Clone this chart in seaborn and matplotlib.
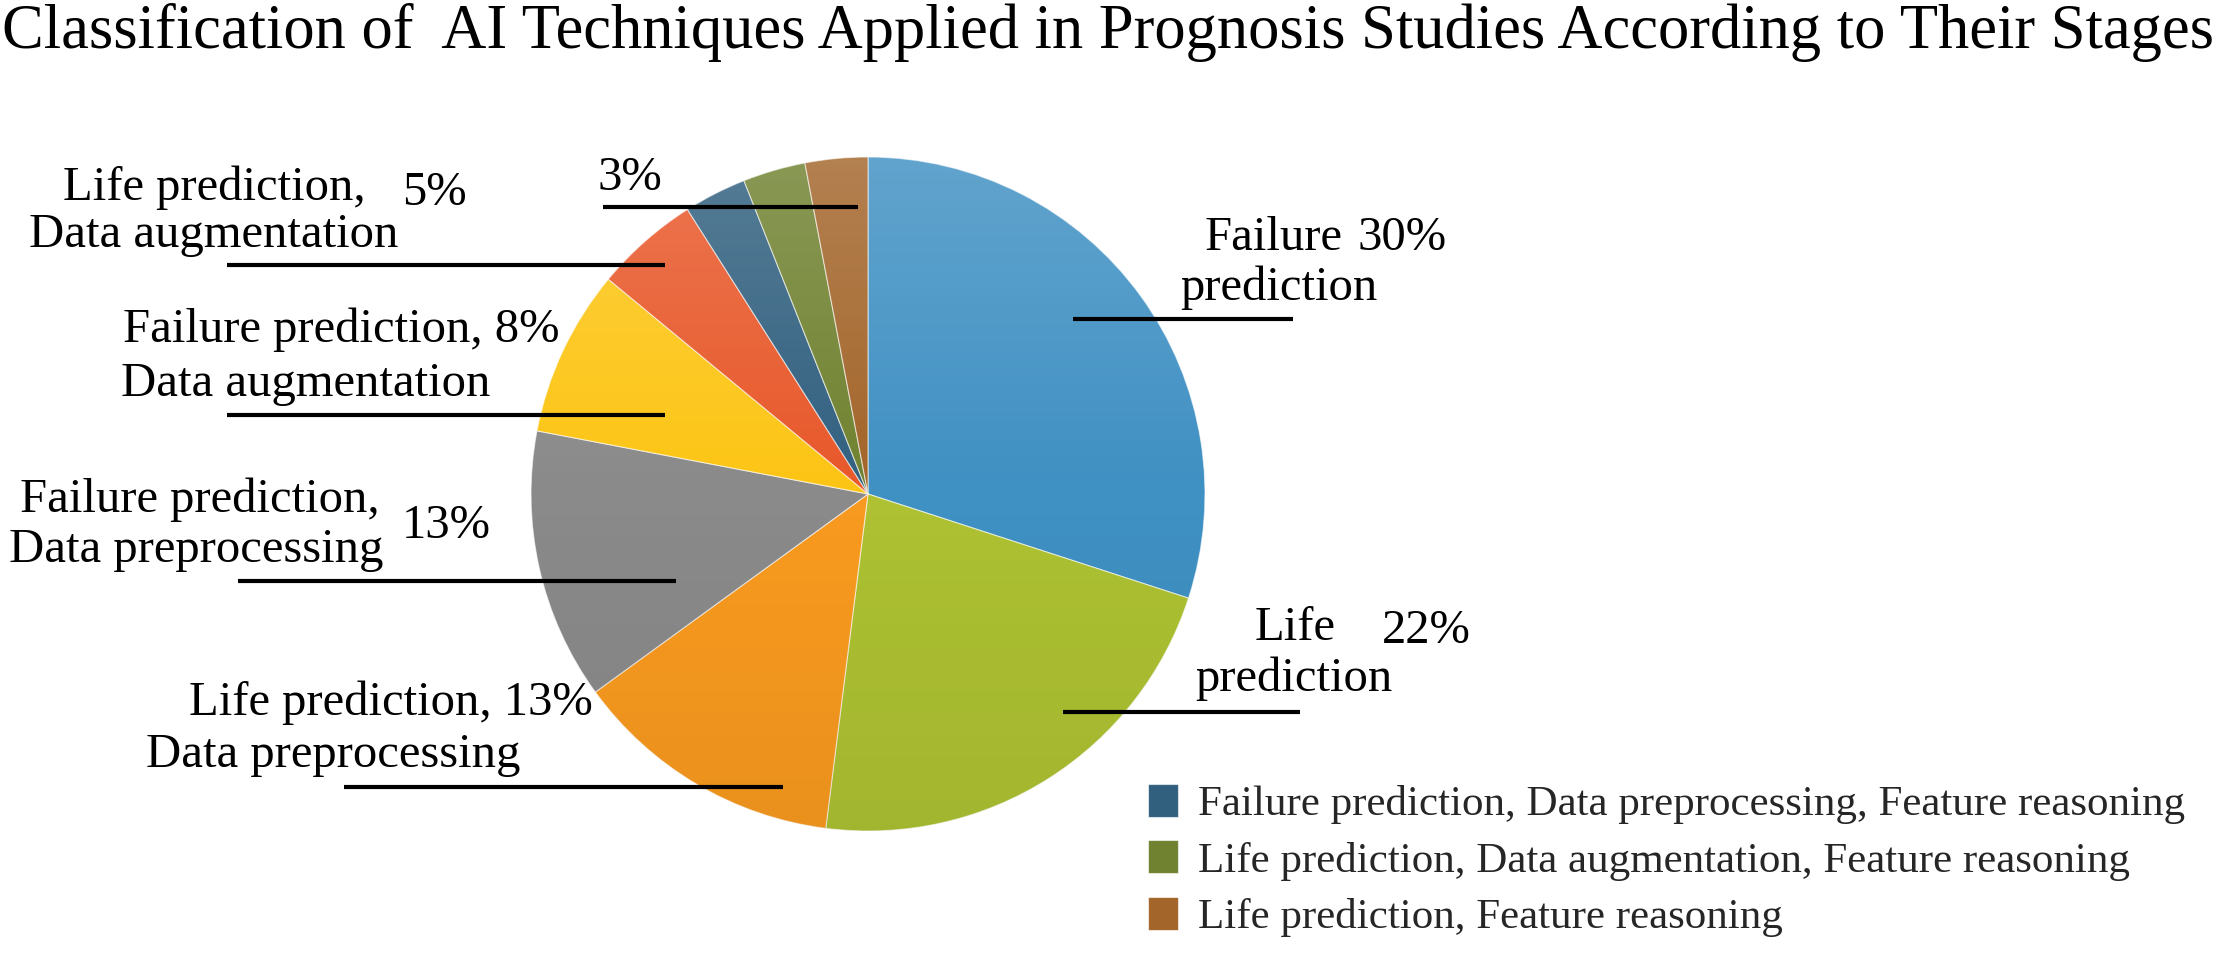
import numpy as np
import matplotlib
matplotlib.use("Agg")
import matplotlib.pyplot as plt
import seaborn as sns
from matplotlib.patches import Circle

# ---------------- data ----------------
categories = [
    "Failure prediction",
    "Life prediction",
    "Life prediction, Data preprocessing",
    "Failure prediction, Data preprocessing",
    "Failure prediction, Data augmentation",
    "Life prediction, Data augmentation",
    "Failure prediction, Data preprocessing, Feature reasoning",
    "Life prediction, Data augmentation, Feature reasoning",
    "Life prediction, Feature reasoning",
]
shares = [30, 22, 13, 13, 8, 5, 3, 3, 3]
slice_colors = ["#3f90c3", "#adc132", "#f89a1f", "#8a8a8a", "#fcc515",
                "#e8582a", "#31607f", "#708230", "#a3652a"]
title = "Classification of  AI Techniques Applied in Prognosis Studies According to Their Stages"

W, H = 2223, 955

sns.set_theme(style="white")
plt.rcParams["font.family"] = ["Liberation Serif", "DejaVu Serif"]

fig = plt.figure(figsize=(W / 100, H / 100), dpi=100)
ax = fig.add_axes([0, 0, 1, 1])

def Y(y):
    return H - y

cx, cy, r = 868, Y(494), 337
palette = sns.color_palette(slice_colors)
wedges, _ = ax.pie(shares, colors=palette, startangle=90, counterclock=False,
                   center=(cx, cy), radius=r, frame=True,
                   wedgeprops=dict(edgecolor=(1, 1, 1, 0.6), linewidth=0.8))

# subtle vertical light/shade overlay like the original gradient fill
t = np.linspace(0, 1, 256)
grad = np.zeros((256, 1, 4))
light = np.clip(1 - 2 * t, 0, 1) * 0.18
dark = np.clip(2 * t - 1, 0, 1) * 0.06
grad[:, 0, :3] = np.where(t[:, None] < 0.5, 1.0, 0.0)
grad[:, 0, 3] = light + dark
im = ax.imshow(grad, extent=(cx - r, cx + r, cy - r, cy + r), origin="upper",
               aspect="auto", zorder=3)
clip = Circle((cx, cy), r, transform=ax.transData)
im.set_clip_path(clip)

FS = 35
def label(x, y, s, fs=FS):
    ax.text(x, Y(y + 4), s, fontsize=fs, ha="left", va="center", color="black", zorder=5)

def leader(x0, x1, y):
    ax.plot([x0, x1], [Y(y), Y(y)], color="black", lw=3, solid_capstyle="butt", zorder=5)

pct = [f"{v}%" for v in shares]

# Failure prediction 30%
label(1205, 234, "Failure")
label(1358, 234, pct[0])
label(1180, 284, "prediction")
leader(1073, 1293, 319)

# Life prediction 22%
label(1255, 624, "Life")
label(1382, 627, pct[1])
label(1195, 675, "prediction")
leader(1063, 1300, 712)

# Life prediction, Data preprocessing 13%
label(189, 699, "Life prediction, " + pct[2])
label(146, 751, "Data preprocessing")
leader(344, 783, 787)

# Failure prediction, Data preprocessing 13%
label(20, 496, "Failure prediction,")
label(402, 522, pct[3])
label(9, 546, "Data preprocessing")
leader(238, 676, 581)

# Failure prediction, Data augmentation 8%
label(123, 326, "Failure prediction, " + pct[4])
label(121, 380, "Data augmentation")
leader(227, 665, 415)

# Life prediction, Data augmentation 5%
label(63, 184, "Life prediction,")
label(402, 189, pct[5])
label(29, 231, "Data augmentation")
leader(227, 665, 265)

# three 3% slices
label(597, 174, pct[6])
leader(603, 858, 207)

# legend for the three small slices
ax.legend(wedges[6:9], categories[6:9], loc="upper left",
          bbox_to_anchor=(1148 / W, 1 - 784 / H), bbox_transform=fig.transFigure,
          frameon=False, fontsize=31, handlelength=0.7, handleheight=0.8,
          handletextpad=0.45, labelspacing=0.37, borderpad=0, borderaxespad=0)

fig.text(2 / W, 1 - 33 / H, title, fontsize=45, ha="left", va="center", color="black")

ax.set_xlim(0, W)
ax.set_ylim(0, H)
ax.axis("off")

fig.savefig("out.png", dpi=100, facecolor="white")
